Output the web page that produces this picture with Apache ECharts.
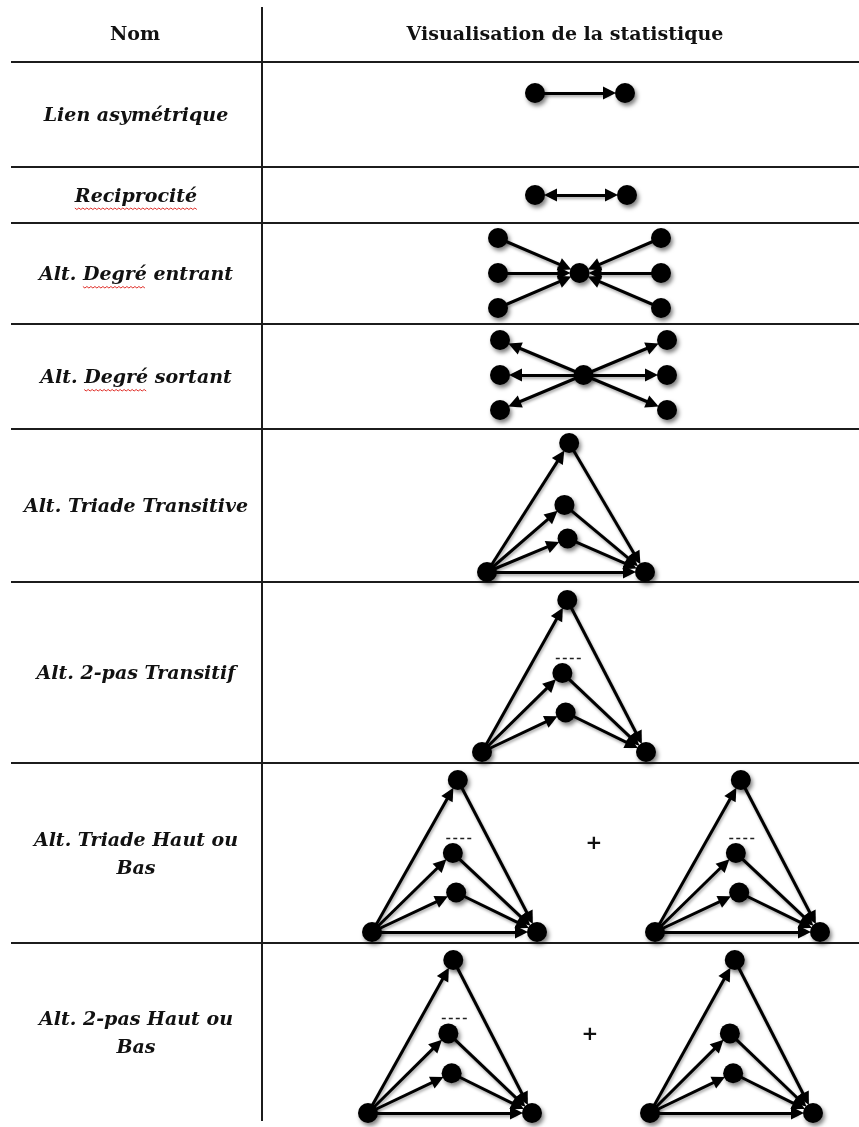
<!DOCTYPE html>
<html><head><meta charset="utf-8">
<script src="https://cdn.jsdelivr.net/npm/echarts@6/dist/echarts.min.js"></script>
<style>html,body{margin:0;padding:0;background:#fff}#chart{width:859px;height:1127px}</style>
</head><body><div id="chart"></div>
<script>
// ---------------- DATA ----------------
const headerLabels = ['Nom', 'Visualisation de la statistique'];
const statNames = [
  'Lien asymétrique',
  'Reciprocité',
  'Alt. Degré entrant',
  'Alt. Degré sortant',
  'Alt. Triade Transitive',
  'Alt. 2-pas Transitif',
  'Alt. Triade Haut ou\nBas',
  'Alt. 2-pas Haut ou\nBas'
];
// words flagged by the spell-checker (red wavy underline): [row, word]
const flaggedWords = [[1, 'Reciprocité'], [2, 'Degré'], [3, 'Degré']];

// motif node layouts (abstract motif units)
const dyadNodes = [[0, 0], [1, 0]];
const starNodes = [[0, 0], [-1, 1], [-1, 0], [-1, -1], [1, 1], [1, 0], [1, -1]];
const triNodes  = [[0, 0], [1, 0], [0.52, 1], [0.49, 0.52], [0.51, 0.26]];

// motif arcs [source, target]
const asymLinks    = [[0, 1]];
const recipLinks   = [[0, 1]];
const inStarLinks  = [[1, 0], [2, 0], [3, 0], [4, 0], [5, 0], [6, 0]];
const outStarLinks = [[0, 1], [0, 2], [0, 3], [0, 4], [0, 5], [0, 6]];
const triadLinks   = [[0, 2], [0, 3], [0, 4], [2, 1], [3, 1], [4, 1], [0, 1]];
const twoPathLinks = [[0, 2], [0, 3], [0, 4], [2, 1], [3, 1], [4, 1]];
const ellipsisSeg  = [[0.45, 0.62], [0.61, 0.62]];

// ---------------- LAYOUT ----------------
const NODE = 20, ARROW = 13;
const rowEdges = [62, 167, 223, 324, 429, 582, 763, 943, 1121];
const panels = [
  { nodes: dyadNodes, links: asymLinks,  both: false, x: [0, 1],  y: [-1, 1], g: [535, 83, 90, 20] },
  { nodes: dyadNodes, links: recipLinks, both: true,  x: [0, 1],  y: [-1, 1], g: [535, 185, 92, 20] },
  { nodes: starNodes, links: inStarLinks,  x: [-1, 1], y: [-1, 1], g: [498, 238, 163, 70] },
  { nodes: starNodes, links: outStarLinks, x: [-1, 1], y: [-1, 1], g: [500, 340, 167, 70] },
  { nodes: triNodes, links: triadLinks,   x: [0, 1], y: [0, 1], g: [487, 443, 158, 129] },
  { nodes: triNodes, links: twoPathLinks, x: [0, 1], y: [0, 1], g: [482, 600, 164, 152], dots: true },
  { nodes: triNodes, links: triadLinks,   x: [0, 1], y: [0, 1], g: [372, 780, 165, 152], dots: true },
  { nodes: triNodes, links: triadLinks,   x: [0, 1], y: [0, 1], g: [655, 780, 165, 152], dots: true },
  { nodes: triNodes, links: triadLinks,   x: [0, 1], y: [0, 1], g: [368, 960, 164, 153], dots: true },
  { nodes: triNodes, links: triadLinks,   x: [0, 1], y: [0, 1], g: [650, 960, 163, 153] }
];
const plusSigns = [[594, 844], [590, 1035]];

const grids = [], xAxes = [], yAxes = [], series = [];
const nodeShadow = { shadowColor: 'rgba(0,0,0,0.5)', shadowBlur: 4, shadowOffsetX: 2, shadowOffsetY: 3 };
panels.forEach((p, i) => {
  grids.push({ left: p.g[0], top: p.g[1], width: p.g[2], height: p.g[3], outerBoundsMode: 'none', containLabel: false });
  xAxes.push({ type: 'value', gridIndex: i, min: p.x[0], max: p.x[1], show: false });
  yAxes.push({ type: 'value', gridIndex: i, min: p.y[0], max: p.y[1], show: false });
  // arcs (hidden nodes sized so arrow tips meet node boundary)
  series.push({
    type: 'graph', layout: 'none', coordinateSystem: 'cartesian2d', xAxisIndex: i, yAxisIndex: i,
    silent: true, z: 2, symbol: 'circle', symbolSize: NODE + ARROW - 2,
    itemStyle: { opacity: 0 }, label: { show: false },
    data: p.nodes.map(v => ({ value: v })),
    links: p.links.map(l => ({ source: l[0], target: l[1] })),
    edgeSymbol: p.both ? ['triangle', 'triangle'] : ['none', 'triangle'],
    edgeSymbolSize: ARROW,
    lineStyle: { color: '#000', width: 3, opacity: 1, curveness: 0,
      shadowColor: 'rgba(0,0,0,0.35)', shadowBlur: 3, shadowOffsetX: 1, shadowOffsetY: 2 }
  });
  // nodes
  series.push({
    type: 'scatter', xAxisIndex: i, yAxisIndex: i, silent: true, z: 3, clip: false,
    symbol: 'circle', symbolSize: NODE, data: p.nodes,
    itemStyle: Object.assign({ color: '#000', opacity: 1 }, nodeShadow)
  });
  if (p.dots) {
    series.push({
      type: 'lines', coordinateSystem: 'cartesian2d', xAxisIndex: i, yAxisIndex: i, silent: true, z: 3,
      data: [{ coords: ellipsisSeg }],
      lineStyle: { color: '#222', width: 1.3, type: [4, 3], opacity: 1 }
    });
  }
});

// ---------------- TABLE (graphic) ----------------
const LABEL_SIZE = 19;
const LABEL_FONT = { fontFamily: 'DejaVu Serif', fontWeight: 'bold', fontStyle: 'italic', fontSize: LABEL_SIZE };
const graphic = [];
rowEdges.slice(0, -1).forEach(y => {
  graphic.push({ type: 'line', shape: { x1: 11, y1: y, x2: 859, y2: y }, style: { stroke: '#1c1c1c', lineWidth: 2 }, silent: true });
});
graphic.push({ type: 'line', shape: { x1: 262, y1: 7, x2: 262, y2: rowEdges[rowEdges.length - 1] }, style: { stroke: '#1c1c1c', lineWidth: 2 }, silent: true });
const headerX = [135, 565];
headerLabels.forEach((t, i) => {
  graphic.push({ type: 'text', x: headerX[i], y: 35, silent: true,
    style: { text: t, fontFamily: 'DejaVu Serif', fontWeight: 'bold', fontSize: 19, fill: '#111', align: 'center', verticalAlign: 'middle' } });
});
const LABEL_X = 136;
statNames.forEach((t, i) => {
  const cy = (rowEdges[i] + rowEdges[i + 1]) / 2 + 2;
  graphic.push({ type: 'text', x: LABEL_X, y: cy, silent: true,
    style: Object.assign({ text: t, fill: '#111', align: 'center', verticalAlign: 'middle', lineHeight: 28 }, LABEL_FONT) });
});
// spell-check wavy underlines
const ctx = document.createElement('canvas').getContext('2d');
ctx.font = 'italic bold ' + LABEL_SIZE + 'px "DejaVu Serif"';
flaggedWords.forEach(([row, word]) => {
  const txt = statNames[row];
  const full = ctx.measureText(txt).width;
  const start = LABEL_X - full / 2 + ctx.measureText(txt.slice(0, txt.indexOf(word))).width;
  const w = ctx.measureText(word).width;
  const cy = (rowEdges[row] + rowEdges[row + 1]) / 2 + 13;
  const pts = [];
  for (let x = 0, k = 0; x <= w; x += 2, k++) pts.push([start + x, cy + (k % 2 ? 1.5 : 0)]);
  graphic.push({ type: 'polyline', shape: { points: pts }, style: { stroke: '#e0302a', lineWidth: 1, fill: null }, silent: true });
});
plusSigns.forEach(([x, y]) => {
  graphic.push({ type: 'text', x: x, y: y, silent: true,
    style: { text: '+', fontFamily: 'DejaVu Sans', fontWeight: 'bold', fontSize: 20, fill: '#111', align: 'center', verticalAlign: 'middle' } });
});

const chart = echarts.init(document.getElementById('chart'));
chart.setOption({
  backgroundColor: '#fff',
  animation: false,
  grid: grids, xAxis: xAxes, yAxis: yAxes,
  series: series,
  graphic: graphic
});
</script></body></html>
